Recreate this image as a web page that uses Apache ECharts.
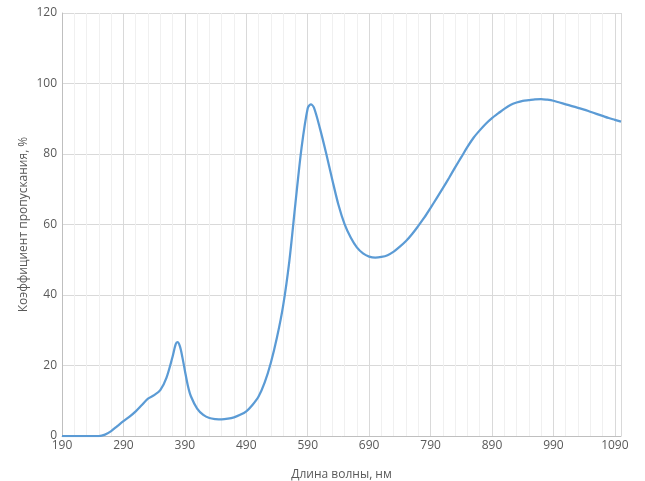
<!DOCTYPE html>
<html>
<head>
<meta charset="utf-8">
<script src="https://cdn.jsdelivr.net/npm/echarts@6/dist/echarts.min.js"></script>
<style>html,body{margin:0;padding:0;background:#fff}#c{width:645px;height:481px}</style>
</head>
<body>
<div id="c"></div>
<script>
var wavelength = [190,200,210,220,230,240,250,260,270,280,290,300,310,320,330,340,350,360,370,375,378,382,386,390,395,400,410,420,430,440,450,460,470,480,490,500,510,520,530,540,550,560,570,580,590,595,600,610,620,630,640,650,660,670,680,690,700,710,720,730,740,750,760,770,780,790,800,810,820,830,840,850,860,870,880,890,900,910,920,930,940,950,960,970,980,990,1000,1010,1020,1030,1040,1050,1060,1070,1080,1090,1100];
var transmission = [0,0,0,0,0,0,0,0.4,1.4,2.8,4.2,5.5,7.0,8.8,10.6,11.6,13.0,16.5,22.5,26.0,26.6,25.4,22.3,18.6,14.2,11.2,7.8,6.0,5.1,4.8,4.7,4.9,5.3,6.0,7.0,8.8,11.2,15.2,20.8,28.0,37.0,49.5,66.0,81.8,93.0,94.1,93.2,87.2,80.2,72.7,65.6,60.1,56.3,53.5,51.8,50.9,50.6,50.8,51.3,52.3,53.7,55.3,57.3,59.6,62.0,64.7,67.5,70.3,73.2,76.2,79.1,82.0,84.6,86.7,88.6,90.2,91.5,92.8,93.9,94.6,95.1,95.3,95.5,95.6,95.4,95.1,94.6,94.1,93.6,93.1,92.6,92.0,91.4,90.8,90.2,89.7,89.2];
var xTitle = 'Длина волны, нм';
var yTitle = 'Коэффициент пропускания, %';

var points = wavelength.map(function (w, i) { return [w, transmission[i]]; });
var chart = echarts.init(document.getElementById('c'));
var font = '"Open Sans", sans-serif';
chart.setOption({
  animation: false,
  grid: {left: 62, right: 24, top: 13, bottom: 45, containLabel: false, outerBoundsMode: 'none'},
  xAxis: {
    type: 'value', min: 190, max: 1100, interval: 100,
    name: xTitle, nameLocation: 'middle', nameGap: 33, nameMoveOverlap: false,
    nameTextStyle: {color: '#595959', fontSize: 12, fontFamily: font},
    axisLine: {show: true, lineStyle: {color: '#BFBFBF', width: 1}},
    axisTick: {show: false},
    axisLabel: {color: '#595959', fontSize: 12, fontFamily: font, margin: 4, showMaxLabel: false,
      formatter: function (v) { return String(v); }},
    splitLine: {show: true, lineStyle: {color: '#D9D9D9', width: 1}},
    minorTick: {show: false, splitNumber: 5},
    minorSplitLine: {show: true, lineStyle: {color: '#F0F0F0', width: 1}}
  },
  yAxis: {
    type: 'value', min: 0, max: 120, interval: 20,
    name: yTitle, nameLocation: 'middle', nameGap: 32, nameMoveOverlap: false,
    nameTextStyle: {color: '#595959', fontSize: 12, fontFamily: font},
    axisLine: {show: true, lineStyle: {color: '#BFBFBF', width: 1}},
    axisTick: {show: false},
    axisLabel: {color: '#595959', fontSize: 12, fontFamily: font, margin: 5},
    splitLine: {show: true, lineStyle: {color: '#D9D9D9', width: 1}}
  },
  series: [{
    type: 'line', data: points, smooth: 0.3, showSymbol: false,
    lineStyle: {color: '#5B9BD5', width: 2.25}
  }]
});
</script>
</body>
</html>
